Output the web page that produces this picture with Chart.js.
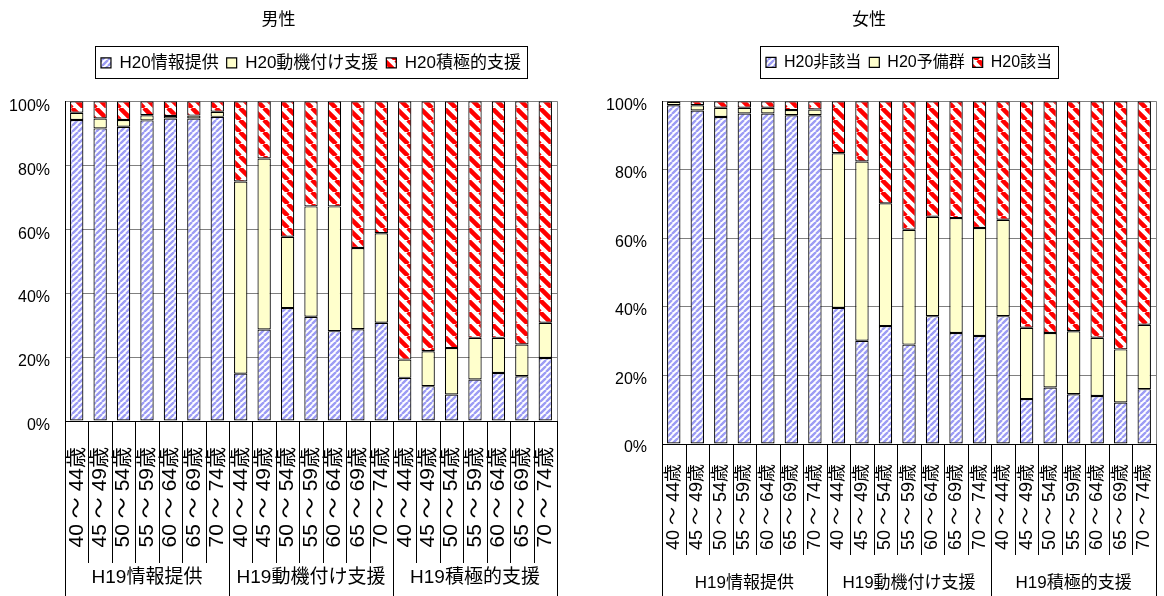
<!DOCTYPE html>
<html>
<head>
<meta charset="utf-8">
<script src="https://cdn.jsdelivr.net/npm/chart.js@4/dist/chart.umd.min.js"></script>
<style>
  body { margin: 0; background: #fff; width: 1164px; height: 596px; overflow: hidden; position: relative; }
  .panel { position: absolute; top: 0; width: 582px; height: 596px; }
</style>
</head>
<body>
<div class="panel" style="left:0"><canvas id="male" width="582" height="596"></canvas></div>
<div class="panel" style="left:582px"><canvas id="female" width="582" height="596"></canvas></div>
<script>
// x axis: age bands repeated inside each H19 group
const ages = ["40 ～ 44歳", "45 ～ 49歳", "50 ～ 54歳", "55 ～ 59歳", "60 ～ 64歳", "65 ～ 69歳", "70 ～ 74歳"];
const groups = ["H19情報提供", "H19動機付け支援", "H19積極的支援"];
const categories = groups.flatMap(() => ages);
const yTicks = [0, 20, 40, 60, 80, 100];

// 男性 (%)
const maleSeries = ["H20情報提供", "H20動機付け支援", "H20積極的支援"];
const maleInfo = [94.1, 91.5, 92.0, 94.0, 94.6, 94.6, 95.1, 14.8, 28.6, 35.3, 32.6, 28.1, 28.7, 30.7, 13.5, 10.9, 8.3, 13.0, 15.0, 14.0, 19.7];
const maleMotiv = [2.3, 3.1, 2.1, 1.6, 0.8, 0.9, 1.6, 60.1, 53.5, 22.3, 34.5, 39.0, 25.4, 28.0, 5.7, 10.9, 14.5, 13.0, 11.0, 9.9, 11.0];
const maleActive = [3.6, 5.4, 5.9, 4.4, 4.6, 4.5, 3.3, 25.1, 17.9, 42.4, 32.9, 32.9, 45.9, 41.3, 80.8, 78.2, 77.2, 74.0, 74.0, 76.1, 69.3];

// 女性 (%)
const femaleSeries = ["H20非該当", "H20予備群", "H20該当"];
const femaleNone = [98.8, 97.3, 95.4, 96.4, 96.4, 95.9, 95.9, 39.7, 30.1, 34.4, 29.0, 37.3, 32.4, 31.5, 37.3, 13.1, 16.5, 14.5, 14.0, 12.1, 16.0];
const femalePre = [1.0, 1.5, 2.7, 1.7, 1.7, 1.5, 1.7, 45.1, 52.3, 35.8, 33.5, 29.0, 33.5, 31.5, 28.1, 20.8, 15.9, 18.4, 17.0, 15.5, 18.8];
const femaleHit = [0.2, 1.2, 1.9, 1.9, 1.9, 2.6, 2.4, 15.2, 17.6, 29.8, 37.5, 33.7, 34.1, 37.0, 34.6, 66.1, 67.6, 67.1, 69.0, 72.4, 65.2];

Chart.defaults.font.family = "'Liberation Sans', Arial, 'Noto Sans CJK JP', sans-serif";
Chart.defaults.color = "#000";

function stripes(color, size, width, back) {
  const c = document.createElement("canvas");
  c.width = c.height = size;
  const g = c.getContext("2d");
  g.fillStyle = "#fff";
  g.fillRect(0, 0, size, size);
  g.strokeStyle = color;
  g.lineWidth = width;
  g.beginPath();
  for (let k = -1; k <= 1; k++) {
    if (back) { g.moveTo(k * size, 0); g.lineTo(k * size + size, size); }
    else { g.moveTo(k * size, size); g.lineTo(k * size + size, 0); }
  }
  g.stroke();
  return g.createPattern(c, "repeat");
}

const bluePat = stripes("#9c9cf4", 6, 2.4, false);
const redPat = stripes("#ff0000", 12, 4.5, true);
const yellow = "#ffffcc";

// box round the legend, right edge of the plot, group labels under the x axis
const extras = {
  id: "extras",
  afterDraw(chart, args, o) {
    const { ctx, chartArea: a, scales: { x } } = chart;
    ctx.save();
    ctx.strokeStyle = "#808080";
    ctx.lineWidth = 1;
    ctx.beginPath();
    ctx.moveTo(Math.round(a.right) + 0.5, a.top);
    ctx.lineTo(Math.round(a.right) + 0.5, a.bottom);
    ctx.stroke();

    const hb = chart.legend.legendHitBoxes;
    const l = Math.min(...hb.map(h => h.left)) - 6;
    const r = Math.max(...hb.map(h => h.left + h.width)) + 6;
    const t = hb[0].top - 8;
    ctx.strokeStyle = "#000";
    ctx.strokeRect(Math.round(l) + 0.5, Math.round(t) + 0.5, Math.round(r - l), 32);

    const step = x.getPixelForValue(1) - x.getPixelForValue(0);
    for (let i = 0; i <= categories.length; i++) {
      const px = Math.round(x.getPixelForValue(i) - step / 2) + 0.5;
      const len = i % ages.length === 0 ? o.groupLine : o.tickLine;
      ctx.beginPath();
      ctx.moveTo(px, a.bottom);
      ctx.lineTo(px, a.bottom + len);
      ctx.stroke();
    }
    ctx.fillStyle = "#000";
    ctx.font = o.groupFont + "px 'Liberation Sans', Arial, 'Noto Sans CJK JP', sans-serif";
    ctx.textAlign = "center";
    ctx.textBaseline = "middle";
    groups.forEach((g, k) => {
      const p0 = x.getPixelForValue(k * ages.length);
      const p1 = x.getPixelForValue((k + 1) * ages.length - 1);
      ctx.fillText(g, (p0 + p1) / 2, a.bottom + o.groupY);
    });
    ctx.restore();
  }
};

function makeChart(id, title, names, series, cfg) {
  const colors = [bluePat, yellow, redPat];
  new Chart(document.getElementById(id), {
    type: "bar",
    data: {
      labels: categories,
      datasets: series.map((d, i) => ({
        label: names[i],
        data: d,
        backgroundColor: colors[i],
        borderColor: "#000",
        borderWidth: 1.2,
        borderSkipped: false,
        categoryPercentage: 1,
        barPercentage: 0.57
      }))
    },
    options: {
      responsive: false,
      animation: false,
      layout: { padding: { left: 0, right: cfg.padRight, top: 0, bottom: 0 } },
      plugins: {
        title: { display: true, text: title, font: { size: 17, weight: "normal" }, padding: { top: 10, bottom: 16 } },
        legend: {
          weight: 1800,
          fullSize: false,
          labels: { boxWidth: 10, boxHeight: 10, padding: 8, font: { size: cfg.legendFont } }
        },
        // empty block that keeps the gap between legend and plot
        subtitle: { display: true, text: "", padding: 0, font: { lineHeight: cfg.gap + "px" } },
        tooltip: { enabled: false },
        extras: cfg.extras
      },
      scales: {
        x: {
          stacked: true,
          grid: { display: false, drawTicks: false },
          border: { color: "#000" },
          ticks: { autoSkip: false, minRotation: 90, maxRotation: 90, padding: cfg.labelPad, font: { size: cfg.labelFont } },
          afterFit: s => { s.height = cfg.xHeight; s.paddingLeft = 0; s.paddingRight = 0; }
        },
        y: {
          stacked: true,
          min: 0,
          max: 100,
          afterBuildTicks: s => { s.ticks = yTicks.map(v => ({ value: v })); },
          grid: { color: "#808080", drawTicks: false },
          border: { color: "#000" },
          ticks: { callback: v => v + "%", padding: 15, labelOffset: cfg.yOffset, font: { size: 16 } },
          afterFit: s => { s.width = cfg.yWidth; }
        }
      }
    },
    plugins: [extras]
  });
}

makeChart("male", "男性", maleSeries, [maleInfo, maleMotiv, maleActive], {
  padRight: 25, yWidth: 65, xHeight: 175, labelPad: 26, labelFont: 21, yOffset: 5, legendFont: 17, gap: 19.8,
  extras: { groupLine: 175, tickLine: 142, groupY: 157, groupFont: 19 }
});
makeChart("female", "女性", femaleSeries, [femaleNone, femalePre, femaleHit], {
  padRight: 8, yWidth: 80, xHeight: 152, labelPad: 20, labelFont: 18, yOffset: 4, legendFont: 16, gap: 20.8,
  extras: { groupLine: 152, tickLine: 111, groupY: 139, groupFont: 17 }
});
</script>
</body>
</html>
